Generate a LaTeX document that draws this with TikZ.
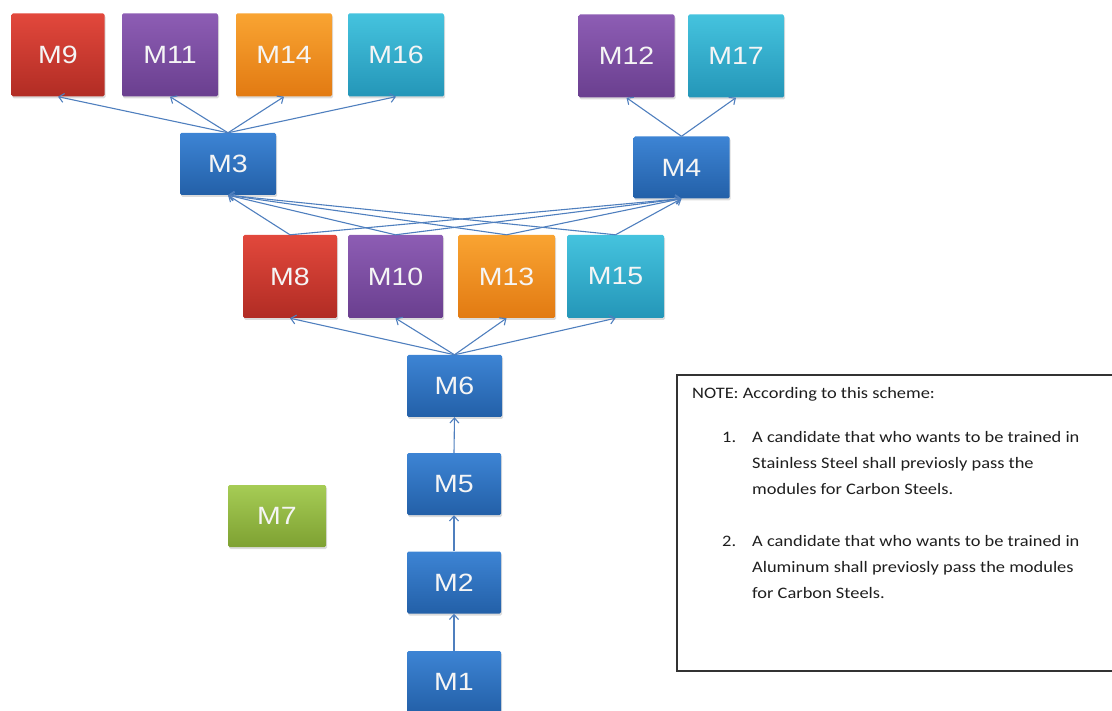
\documentclass[tikz,border=0pt]{standalone}
\usepackage{fontspec}
\usetikzlibrary{arrows.meta,shadows}
\newfontfamily\boxfont{Liberation Sans}[FakeStretch=1.14]
\newfontfamily\notefont{Carlito}[FakeStretch=1.15]
\definecolor{redT}{HTML}{E2483C}\definecolor{redB}{HTML}{B12C24}
\definecolor{purT}{HTML}{8D5DB4}\definecolor{purB}{HTML}{6A3F8F}
\definecolor{oraT}{HTML}{F9A432}\definecolor{oraB}{HTML}{E27A12}
\definecolor{tealT}{HTML}{45C3DE}\definecolor{tealB}{HTML}{2496B8}
\definecolor{bluT}{HTML}{3D84D4}\definecolor{bluB}{HTML}{2360A8}
\definecolor{grnT}{HTML}{A6CC55}\definecolor{grnB}{HTML}{7EA132}
\definecolor{conncol}{HTML}{4F7FBE}
\definecolor{notetext}{HTML}{1E1E1E}
\tikzset{
  mbox/.style={rectangle, rounded corners=1.5pt, inner sep=0pt,
    minimum height=62pt, minimum width=96pt, text=white!96!black,
    font=\boxfont\fontsize{25}{25}\selectfont,
    drop shadow={shadow xshift=1pt, shadow yshift=-2pt, fill=black!30, opacity=0.45}},
  tall/.style={minimum height=83pt},
  redbox/.style={mbox, top color=redT, bottom color=redB},
  purbox/.style={mbox, top color=purT, bottom color=purB},
  orabox/.style={mbox, top color=oraT, bottom color=oraB},
  tealbox/.style={mbox, top color=tealT, bottom color=tealB},
  blubox/.style={mbox, top color=bluT, bottom color=bluB},
  grnbox/.style={mbox, top color=grnT, bottom color=grnB},
  conn/.style={draw=conncol, line width=1.1pt, -{Straight Barb[length=5pt,width=9pt]}},
  notetxt/.style={anchor=base west, inner sep=0pt, text=notetext,
    font=\notefont\fontsize{16}{25}\selectfont},
}
\begin{document}
\begin{tikzpicture}[x=1pt,y=-1pt]
\useasboundingbox (0,0) rectangle (1112,711);
% top row
\node[redbox, tall, minimum width=93pt] (M9) at (58,55) {M9};
\node[purbox, tall] (M11) at (170,55) {M11};
\node[orabox, tall] (M14) at (284,55) {M14};
\node[tealbox, tall] (M16) at (396,55) {M16};
\node[purbox, tall] (M12) at (626.5,56) {M12};
\node[tealbox, tall] (M17) at (736,56) {M17};
% second row
\node[blubox] (M3) at (228,164) {M3};
\node[blubox] (M4) at (681.5,167.5) {M4};
% middle row
\node[redbox, tall, minimum width=94pt] (M8) at (290,276.5) {M8};
\node[purbox, tall, minimum width=95pt] (M10) at (395.5,276.5) {M10};
\node[orabox, tall, minimum width=97pt] (M13) at (506.5,276.5) {M13};
\node[tealbox, tall, minimum width=97pt] (M15) at (615.5,276.5) {M15};
% chain
\node[blubox, minimum width=95pt] (M6) at (454.5,386) {M6};
\node[blubox, minimum width=94pt] (M5) at (454,484) {M5};
\node[blubox, minimum width=94pt] (M2) at (454,582.5) {M2};
\node[blubox, minimum width=94pt] (M1) at (454,682) {M1};
\node[grnbox, minimum width=98pt] (M7) at (277,516) {M7};
% connectors
\foreach \t in {M9,M11,M14,M16} \draw[conn] (M3.north) -- (\t.south);
\foreach \t in {M12,M17} \draw[conn] (M4.north) -- (\t.south);
\foreach \s in {M8,M10,M13,M15} {
  \draw[conn] (\s.north) -- (M3.south);
  \draw[conn] (\s.north) -- (M4.south);
  \draw[conn] (M6.north) -- (\s.south);
}
\draw[conn] (M5.north) -- (M6.south);
\draw[conn] (M2.north) -- (M5.south);
\draw[conn] (M1.north) -- (M2.south);
% note box
\coordinate (nbTR) at (1112,375);
\coordinate (nbTL) at (677,375);
\coordinate (nbBL) at (677,671);
\coordinate (nbBR) at (1112,671);
\draw[line width=1.6pt, draw=black!80] (nbTR) -- (nbTL) -- (nbBL) -- (nbBR);
\node[notetxt] (nt) at (692,399) {NOTE: According to this scheme:};
\node[notetxt] (n1) at (722,442.5) {1.};
\node[notetxt] (l11) at (752,442.5) {A candidate that who wants to be trained in};
\node[notetxt] (l12) at (752,468) {Stainless Steel shall previosly pass the};
\node[notetxt] (l13) at (752,494) {modules for Carbon Steels.};
\node[notetxt] (n2) at (722,546) {2.};
\node[notetxt] (l21) at (752,546) {A candidate that who wants to be trained in};
\node[notetxt] (l22) at (752,572) {Aluminum shall previosly pass the modules};
\node[notetxt] (l23) at (752,598) {for Carbon Steels.};
\end{tikzpicture}
\end{document}
